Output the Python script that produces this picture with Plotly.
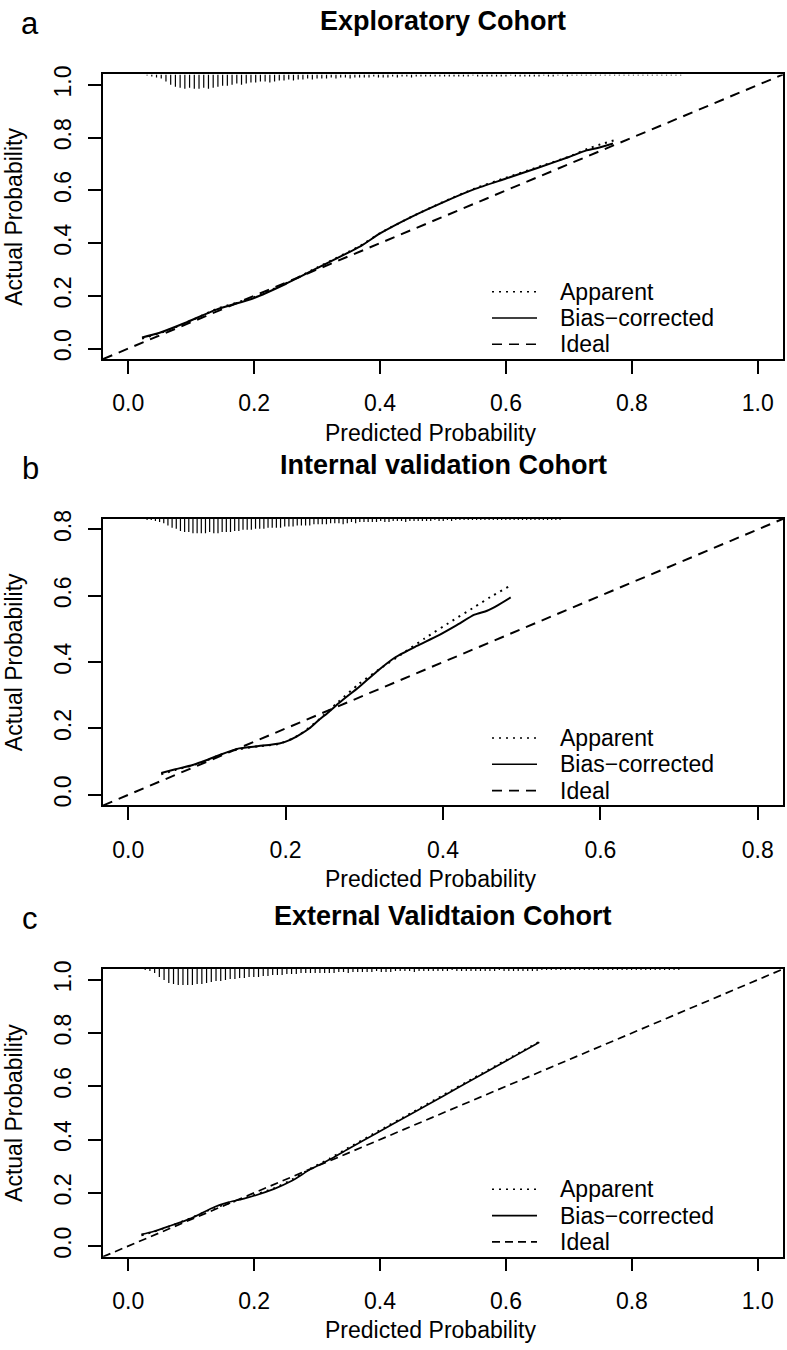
import plotly.graph_objects as go

W, H = 787, 1350
FONT = "Liberation Sans, Arial, Helvetica, sans-serif"

# ---------------- data ----------------
panel_titles = ["Exploratory Cohort", "Internal validation Cohort", "External Validtaion Cohort"]
panel_letters = ["a", "b", "c"]
x_title = "Predicted Probability"
y_title = "Actual Probability"
legend_names = ["Apparent", "Bias\u2212corrected", "Ideal"]

ticks_a = [0.0, 0.2, 0.4, 0.6, 0.8, 1.0]
ticks_b = [0.0, 0.2, 0.4, 0.6, 0.8]
ticks_c = [0.0, 0.2, 0.4, 0.6, 0.8, 1.0]

# Panel a: Exploratory cohort
app_a_x = [0.022, 0.05, 0.09, 0.14, 0.2, 0.25, 0.3, 0.37, 0.4, 0.45, 0.5, 0.55, 0.6, 0.65, 0.7, 0.73, 0.75, 0.775]
app_a_y = [0.038, 0.058, 0.095, 0.150, 0.195, 0.247, 0.307, 0.392, 0.438, 0.500, 0.556, 0.607, 0.648, 0.688, 0.728, 0.758, 0.775, 0.792]
bc_a_x = [0.022, 0.05, 0.09, 0.14, 0.2, 0.25, 0.3, 0.37, 0.4, 0.45, 0.5, 0.55, 0.6, 0.65, 0.7, 0.728, 0.742, 0.77]
bc_a_y = [0.042, 0.060, 0.097, 0.148, 0.192, 0.245, 0.305, 0.390, 0.437, 0.500, 0.555, 0.605, 0.645, 0.685, 0.727, 0.752, 0.759, 0.778]
rug_a_start, rug_a_width = 0.030, 0.0075
rug_a = [1, 2, 3, 4, 7, 10, 12, 13, 14, 13, 14, 14, 13, 14, 13, 12, 11, 11, 10, 9, 10, 9, 8, 8, 7, 7, 8, 7, 6, 6,
         5, 6, 5, 5, 4, 5, 4, 4, 4, 3, 4,
         3, 3, 4, 3, 3, 3, 3, 2, 3, 3, 3, 2, 3,
         2, 2, 3, 2, 2, 2, 2, 2, 2, 2, 2, 2, 2, 2, 2, 1, 2, 2, 2, 2, 2, 2, 2, 1, 2, 2, 2, 2, 2, 2, 1, 2, 2,
         1, 1, 2, 1, 1, 1, 1, 1, 1, 1, 1, 1, 1, 1, 1, 1, 1, 1, 1, 1, 1, 1, 1, 1, 1, 1, 1]

# Panel b: Internal validation cohort
app_b_x = [0.042, 0.06, 0.082, 0.10, 0.116, 0.141, 0.166, 0.192, 0.217, 0.242, 0.267, 0.293, 0.32, 0.35, 0.377, 0.41, 0.44, 0.46, 0.483]
app_b_y = [0.062, 0.075, 0.089, 0.104, 0.120, 0.138, 0.146, 0.154, 0.180, 0.226, 0.280, 0.334, 0.380, 0.428, 0.472, 0.522, 0.566, 0.596, 0.627]
bc_b_x = [0.042, 0.06, 0.082, 0.10, 0.116, 0.141, 0.166, 0.192, 0.205, 0.217, 0.23, 0.242, 0.255, 0.267, 0.28,
          0.293, 0.316, 0.339, 0.366, 0.393, 0.417, 0.44, 0.456, 0.47, 0.486]
bc_b_y = [0.066, 0.077, 0.090, 0.105, 0.120, 0.140, 0.147, 0.155, 0.165, 0.180, 0.200, 0.225, 0.250, 0.275, 0.300,
          0.324, 0.372, 0.414, 0.448, 0.479, 0.511, 0.543, 0.555, 0.572, 0.595]
rug_b_start, rug_b_width = 0.024, 0.0053
rug_b = [1, 1, 2, 3, 4,
         6, 8, 9, 11, 12, 12, 13, 13, 13, 13, 12, 13, 13, 12, 12, 12, 11, 11, 10, 10, 10, 9, 9, 9, 8, 8, 8, 8, 7, 7, 7, 6, 6, 6, 6, 5, 5, 5, 5, 4,
         4, 4, 5, 4,
         3, 4, 3, 3, 3, 3, 3, 2, 3, 3,
         2, 2, 2, 3, 2, 2, 2, 2, 2, 2, 1, 2, 2,
         1, 2, 1, 1, 1, 1, 1, 1, 1, 1, 1, 1, 1, 1, 1, 1, 1, 1, 1, 1, 1, 1, 1, 1, 1, 1, 1, 1]

# Panel c: External validation cohort
app_c_x = [0.021, 0.04, 0.063, 0.1, 0.137, 0.16, 0.184, 0.232, 0.26, 0.29, 0.32, 0.348, 0.395, 0.45, 0.5, 0.55, 0.6, 0.655]
app_c_y = [0.040, 0.053, 0.072, 0.106, 0.143, 0.160, 0.180, 0.218, 0.250, 0.292, 0.329, 0.367, 0.429, 0.501, 0.567, 0.633, 0.699, 0.770]
bc_c_x = [0.021, 0.04, 0.063, 0.1, 0.137, 0.16, 0.184, 0.232, 0.26, 0.29, 0.32, 0.348, 0.395, 0.45, 0.5, 0.55, 0.6, 0.653]
bc_c_y = [0.044, 0.055, 0.073, 0.104, 0.147, 0.165, 0.178, 0.215, 0.245, 0.289, 0.325, 0.363, 0.425, 0.497, 0.563, 0.629, 0.695, 0.765]
rug_c_start, rug_c_width = 0.027, 0.0075
rug_c = [1, 2, 4, 8, 11, 14, 15, 16, 16, 16, 16, 15, 15, 14, 13, 12, 12, 11, 10, 10, 9, 9, 8, 8, 8, 7, 7, 6, 6, 6,
         5, 5, 5, 4, 4, 4, 4, 4, 4, 4, 4,
         3, 3, 4, 3, 3, 3, 3, 3, 2, 3, 3, 3,
         2, 2, 2, 2, 3, 2, 2, 2, 2, 2, 2, 2, 1, 2, 2, 2, 2, 2, 2, 2, 2, 2, 1, 2, 2, 2, 2, 2, 2, 2, 2,
         1, 1, 1, 1, 1, 1, 1, 1, 1, 1, 1, 1, 1, 1, 1, 1, 1, 1, 1, 1, 1, 1, 1, 1, 1, 1, 1, 1, 1, 1]

# ---------------- layout (pixels) ----------------
box_left, box_right = 103, 783
box_tops = [66, 514, 968]
box_bottoms = [353, 803, 1258]
x_ranges = [[-0.04, 1.04], [-0.032, 0.832], [-0.04, 1.04]]
y_ranges = [[-0.04, 1.04], [-0.032, 0.832], [-0.04, 1.04]]
dash_app = "2px,5px"
dash_ideal = ["10px,7px", "10px,7px", "8px,5px"]
lw = [2.0, 2.0, 1.7]
spike_frac = [0.05, 0.05, 0.055]
leg_line_x = (492, 537)
leg_text_x = 558
leg_row_offsets = [68, 41.5, 15]   # px above box bottom

panels = [
    dict(app=(app_a_x, app_a_y), bc=(bc_a_x, bc_a_y), rug=(rug_a_start, rug_a_width, rug_a), ticks=ticks_a),
    dict(app=(app_b_x, app_b_y), bc=(bc_b_x, bc_b_y), rug=(rug_b_start, rug_b_width, rug_b), ticks=ticks_b),
    dict(app=(app_c_x, app_c_y), bc=(bc_c_x, bc_c_y), rug=(rug_c_start, rug_c_width, rug_c), ticks=ticks_c),
]


def py(px):
    return 1 - px / H


def pxx(px):
    return px / W


fig = go.Figure()
layout = dict(
    width=W, height=H,
    margin=dict(l=0, r=0, t=0, b=0),
    paper_bgcolor="white", plot_bgcolor="white",
    font=dict(family=FONT, size=23, color="black"),
    showlegend=False,
    annotations=[], shapes=[],
)

for i, p in enumerate(panels):
    n = "" if i == 0 else str(i + 1)
    xa, ya = "x" + n, "y" + n
    xr, yr = x_ranges[i], y_ranges[i]

    # rug (risk distribution spikes hanging from the top border)
    start, width, counts = p["rug"]
    cmax = max(counts)
    span = yr[1] - yr[0]
    rx, ry = [], []
    for k, c in enumerate(counts):
        xv = start + k * width
        rx += [xv, xv, None]
        ry += [yr[1], yr[1] - spike_frac[i] * span * c / cmax, None]
    fig.add_trace(go.Scatter(x=rx, y=ry, mode="lines", line=dict(color="black", width=1.2),
                             hoverinfo="skip", xaxis=xa, yaxis=ya, name="rug"))

    fig.add_trace(go.Scatter(x=p["app"][0], y=p["app"][1], mode="lines", name=legend_names[0],
                             line=dict(color="black", width=lw[i], dash=dash_app, shape="spline", smoothing=0.6),
                             xaxis=xa, yaxis=ya))
    fig.add_trace(go.Scatter(x=p["bc"][0], y=p["bc"][1], mode="lines", name=legend_names[1],
                             line=dict(color="black", width=lw[i], shape="spline", smoothing=0.6),
                             xaxis=xa, yaxis=ya))
    fig.add_trace(go.Scatter(x=[xr[0], xr[1]], y=[yr[0], yr[1]], mode="lines", name=legend_names[2],
                             line=dict(color="black", width=lw[i], dash=dash_ideal[i]),
                             xaxis=xa, yaxis=ya))

    common = dict(showline=True, mirror=True, linecolor="black", linewidth=1.5,
                  showgrid=False, zeroline=False, ticks="outside", ticklen=13, tickwidth=1.5,
                  tickcolor="black", tickfont=dict(size=23, family=FONT), tickformat=".1f",
                  tickmode="array", tickvals=p["ticks"], fixedrange=True)
    layout["xaxis" + n] = dict(common, range=xr, anchor=ya,
                               domain=[box_left / W, box_right / W], ticklabelstandoff=10)
    layout["yaxis" + n] = dict(common, range=yr, anchor=xa, tickangle=-90,
                               domain=[py(box_bottoms[i]), py(box_tops[i])], ticklabelstandoff=8)

    # legend (R-style: line sample + label, bottom right)
    dashes = [dash_app, "solid", dash_ideal[i]]
    for name, dsh, off in zip(legend_names, dashes, leg_row_offsets):
        yy = py(box_bottoms[i] - off)
        layout["shapes"].append(dict(type="line", xref="paper", yref="paper",
                                     x0=pxx(leg_line_x[0]), x1=pxx(leg_line_x[1]), y0=yy, y1=yy,
                                     line=dict(color="black", width=1.6, dash=dsh)))
        layout["annotations"].append(dict(text=name, x=pxx(leg_text_x), y=yy, xref="paper", yref="paper",
                                          xanchor="left", yanchor="middle", showarrow=False,
                                          font=dict(size=23, family=FONT)))

    off = box_tops[i] - box_tops[0]
    layout["annotations"] += [
        dict(text="<b>" + panel_titles[i] + "</b>", x=pxx((box_left + box_right) / 2), y=py(12 + off),
             xref="paper", yref="paper", xanchor="center", yanchor="middle", showarrow=False,
             font=dict(size=27, family=FONT)),
        dict(text=panel_letters[i], x=pxx(30), y=py(15 + off), xref="paper", yref="paper",
             xanchor="center", yanchor="middle", showarrow=False, font=dict(size=31, family=FONT)),
        dict(text=x_title, x=pxx(430), y=py(box_bottoms[i] + 74), xref="paper", yref="paper",
             xanchor="center", yanchor="middle", showarrow=False, font=dict(size=23, family=FONT)),
        dict(text=y_title, x=pxx(14), y=py((box_tops[i] + box_bottoms[i]) / 2), xref="paper", yref="paper",
             xanchor="center", yanchor="middle", textangle=-90, showarrow=False,
             font=dict(size=23, family=FONT)),
    ]

fig.update_layout(**layout)
fig.write_html("out.html", config={"displayModeBar": False},
               post_script="document.body.style.margin='0';")
